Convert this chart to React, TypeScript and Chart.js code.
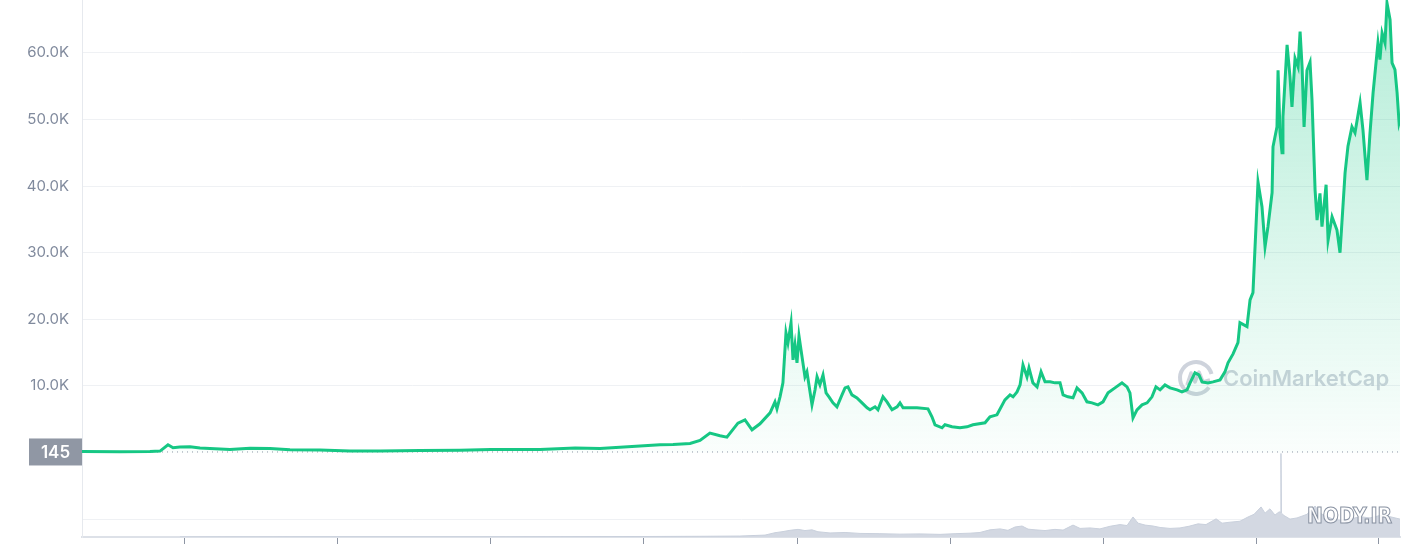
import React, { useEffect, useRef } from "react";
import { Chart, registerables } from "chart.js";

Chart.register(...registerables);

// price history, decimal years vs USD
const priceDates: number[] = [
  2013.327, 2013.575, 2013.771, 2013.837, 2013.889, 2013.922, 2013.967, 2014.033, 2014.098, 2014.196,
  2014.294, 2014.425, 2014.556, 2014.686, 2014.882, 2015.078, 2015.275, 2015.536, 2015.797, 2016.0,
  2016.32, 2016.55, 2016.712, 2017.0, 2017.105, 2017.19, 2017.301, 2017.366, 2017.431, 2017.497,
  2017.542, 2017.614, 2017.66, 2017.706, 2017.758, 2017.824, 2017.856, 2017.869, 2017.889, 2017.908,
  2017.928, 2017.941, 2017.961, 2017.974, 2017.987, 2018.0, 2018.013, 2018.033, 2018.052, 2018.065,
  2018.098, 2018.118, 2018.131, 2018.15, 2018.17, 2018.19, 2018.209, 2018.235, 2018.261, 2018.294,
  2018.314, 2018.333, 2018.359, 2018.392, 2018.425, 2018.458, 2018.477, 2018.51, 2018.529, 2018.562,
  2018.588, 2018.621, 2018.654, 2018.673, 2018.693, 2018.739, 2018.784, 2018.856, 2018.882, 2018.902,
  2018.948, 2018.967, 2019.013, 2019.065, 2019.111, 2019.15, 2019.229, 2019.261, 2019.307, 2019.359,
  2019.392, 2019.412, 2019.438, 2019.458, 2019.477, 2019.503, 2019.516, 2019.542, 2019.569, 2019.595,
  2019.621, 2019.654, 2019.686, 2019.719, 2019.739, 2019.771, 2019.804, 2019.83, 2019.863, 2019.895,
  2019.928, 2019.967, 2020.0, 2020.033, 2020.078, 2020.124, 2020.157, 2020.176, 2020.196, 2020.222,
  2020.255, 2020.288, 2020.32, 2020.346, 2020.373, 2020.405, 2020.438, 2020.484, 2020.516, 2020.549,
  2020.569, 2020.601, 2020.627, 2020.647, 2020.686, 2020.719, 2020.765, 2020.797, 2020.817, 2020.85,
  2020.882, 2020.895, 2020.941, 2020.961, 2020.98, 2021.013, 2021.039, 2021.059, 2021.078, 2021.105,
  2021.111, 2021.137, 2021.144, 2021.157, 2021.17, 2021.176, 2021.203, 2021.222, 2021.235, 2021.255,
  2021.275, 2021.288, 2021.301, 2021.314, 2021.333, 2021.353, 2021.366, 2021.386, 2021.399, 2021.418,
  2021.431, 2021.458, 2021.471, 2021.497, 2021.529, 2021.549, 2021.582, 2021.601, 2021.627, 2021.647,
  2021.68, 2021.699, 2021.725, 2021.745, 2021.765, 2021.797, 2021.81, 2021.824, 2021.843, 2021.856,
  2021.876, 2021.889, 2021.908, 2021.922, 2021.935, 2021.941,
];

const priceValues: number[] = [
  135, 100, 130, 200, 1150, 700, 800, 850, 650, 550,
  450, 620, 590, 400, 380, 230, 230, 280, 330, 430,
  450, 650, 610, 1000, 1150, 1200, 1350, 1800, 2900, 2500,
  2300, 4400, 4900, 3400, 4300, 5950, 7600, 6550, 8350, 10450,
  17950, 16450, 19450, 13900, 16150, 13450, 17500, 14350, 11350, 12100,
  7150, 9400, 11350, 10150, 11650, 8950, 8350, 7450, 6850, 8650,
  9700, 9850, 8650, 8200, 7450, 6700, 6400, 6850, 6400, 8350,
  7600, 6400, 6850, 7450, 6700, 6700, 6700, 6550, 5350, 4150,
  3700, 4150, 3850, 3700, 3850, 4150, 4450, 5350, 5650, 7900,
  8650, 8350, 9100, 10150, 13150, 11350, 12700, 10450, 9850, 12100,
  10600, 10600, 10450, 10450, 8650, 8350, 8200, 9700, 8950, 7600,
  7450, 7150, 7600, 8950, 9700, 10450, 9850, 8950, 5200, 6400,
  7150, 7450, 8350, 9850, 9400, 10150, 9700, 9400, 9100, 9400,
  10450, 11950, 11650, 10600, 10450, 10600, 10900, 12100, 13450, 14800,
  16500, 19500, 18900, 22900, 24000, 40600, 36900, 30900, 33900, 39000,
  45900, 48900, 57400, 48000, 45000, 50400, 61200, 56400, 51900, 59200,
  57900, 63200, 57900, 48900, 57400, 58600, 52900, 39400, 34900, 38900,
  33900, 40200, 31900, 35400, 33400, 30000, 42000, 46000, 48900, 48000,
  52500, 48400, 40900, 48000, 54000, 61500, 59000, 63000, 61500, 67500,
  65000, 58500, 57500, 54000, 49500, 50000,
];

// traded volume, billions USD
const volumeDates: number[] = [
  2013.967, 2014.752, 2016.059, 2016.974, 2017.366, 2017.627, 2017.791, 2017.856, 2017.902, 2017.954,
  2018.007, 2018.052, 2018.098, 2018.137, 2018.216, 2018.314, 2018.412, 2018.542, 2018.673, 2018.804,
  2018.935, 2019.033, 2019.131, 2019.196, 2019.261, 2019.327, 2019.379, 2019.425, 2019.471, 2019.51,
  2019.556, 2019.621, 2019.686, 2019.739, 2019.804, 2019.85, 2019.915, 2019.98, 2020.046, 2020.111,
  2020.157, 2020.196, 2020.229, 2020.275, 2020.327, 2020.373, 2020.438, 2020.503, 2020.562, 2020.621,
  2020.673, 2020.739, 2020.778, 2020.83, 2020.895, 2020.948, 2020.987, 2021.033, 2021.059, 2021.091,
  2021.124, 2021.15, 2021.16, 2021.163, 2021.166, 2021.183, 2021.222, 2021.268, 2021.333, 2021.386,
  2021.418, 2021.464, 2021.516, 2021.549, 2021.614, 2021.68, 2021.745, 2021.81, 2021.876, 2021.941,
];

const volumeValues: number[] = [
  0.5, 1, 1, 2, 3, 4, 8, 18, 22, 28,
  32, 27, 30, 22, 17, 19, 15, 14, 12, 13,
  11, 14, 16, 19, 30, 34, 28, 42, 46, 33,
  30, 27, 32, 29, 50, 36, 38, 34, 45, 52,
  48, 84, 58, 50, 46, 40, 36, 38, 45, 55,
  52, 76, 58, 62, 66, 84, 95, 126, 100, 118,
  92, 105, 105, 350, 100, 90, 75, 80, 95, 130,
  100, 85, 72, 70, 75, 85, 80, 90, 85, 75,
];

const yTickValues = [-10000, 0, 10000, 20000, 30000, 40000, 50000, 60000];
const xTickYears = [2014, 2015, 2016, 2017, 2018, 2019, 2020, 2021, 2021.8];
const baselinePrice = 145;

const GREEN = "#16c784";

const overlayPlugin = {
  id: "overlay",
  beforeDatasetsDraw(chart: any) {
    const { ctx, chartArea } = chart;
    const y = chart.scales.y.getPixelForValue(baselinePrice);
    ctx.save();
    // dotted reference line
    ctx.setLineDash([1, 4]);
    ctx.strokeStyle = "#8e96a6";
    ctx.lineWidth = 1;
    ctx.beginPath();
    ctx.moveTo(chartArea.left, y + 0.5);
    ctx.lineTo(chartArea.right, y + 0.5);
    ctx.stroke();
    ctx.setLineDash([]);

    // CoinMarketCap watermark
    const cx = chartArea.right - 204;
    const cy = chartArea.top + 378;
    ctx.strokeStyle = "rgba(190,196,208,0.75)";
    ctx.lineWidth = 4;
    ctx.beginPath();
    ctx.arc(cx, cy, 16, 0.2 * Math.PI, 1.92 * Math.PI);
    ctx.stroke();
    ctx.lineWidth = 3.5;
    ctx.lineJoin = "round";
    ctx.beginPath();
    ctx.moveTo(cx - 9, cy + 7);
    ctx.lineTo(cx - 5, cy - 5);
    ctx.lineTo(cx - 1, cy + 4);
    ctx.lineTo(cx + 3, cy - 6);
    ctx.lineTo(cx + 7, cy + 4);
    ctx.lineTo(cx + 14, cy + 2);
    ctx.stroke();
    ctx.fillStyle = "rgba(190,196,208,0.75)";
    ctx.font = "600 22px Inter";
    ctx.textAlign = "left";
    ctx.textBaseline = "middle";
    ctx.fillText("CoinMarketCap", cx + 27, cy + 1);
    ctx.restore();
  },
  afterDraw(chart: any) {
    const { ctx, chartArea } = chart;
    const y = chart.scales.y.getPixelForValue(baselinePrice);
    ctx.save();
    // current value tag on the axis
    ctx.fillStyle = "#9097a4";
    ctx.fillRect(29, y - 13, chartArea.left - 29, 27);
    ctx.fillStyle = "#ffffff";
    ctx.font = "600 17px Inter";
    ctx.textAlign = "center";
    ctx.textBaseline = "middle";
    ctx.fillText(String(baselinePrice), (29 + chartArea.left) / 2, y + 1);

    // site stamp
    ctx.font = "bold 21px 'DejaVu Sans Condensed'";
    ctx.textAlign = "right";
    ctx.fillStyle = "rgba(255,255,255,0.85)";
    ctx.fillText("NODY.IR", chartArea.right - 8, chartArea.bottom - 19);
    ctx.strokeStyle = "#8a93a3";
    ctx.lineWidth = 1;
    ctx.strokeText("NODY.IR", chartArea.right - 8, chartArea.bottom - 19);
    ctx.restore();
  },
};

const BitcoinChart: React.FC = () => {
  const chartRef = useRef<HTMLCanvasElement>(null);
  const chartInstance = useRef<Chart | null>(null);

  useEffect(() => {
    document.body.style.margin = "0";
    if (!chartRef.current) return;
    if (chartInstance.current) chartInstance.current.destroy();

    chartInstance.current = new Chart(chartRef.current, {
      type: "line",
      data: {
        datasets: [
          {
            label: "Price",
            data: priceDates.map((d, i) => ({ x: d, y: priceValues[i] })),
            borderColor: GREEN,
            borderWidth: 3,
            pointRadius: 0,
            tension: 0,
            fill: "origin",
            yAxisID: "y",
            backgroundColor: (context: any) => {
              const { chart } = context;
              const area = chart.chartArea;
              if (!area) return "rgba(22,199,132,0.1)";
              const zero = chart.scales.y.getPixelForValue(0);
              const g = chart.ctx.createLinearGradient(0, area.top, 0, zero);
              g.addColorStop(0, "rgba(22,199,132,0.32)");
              g.addColorStop(1, "rgba(22,199,132,0.02)");
              return g;
            },
          },
          {
            label: "Volume",
            data: volumeDates.map((d, i) => ({ x: d, y: volumeValues[i] })),
            borderColor: "#c9d0dc",
            borderWidth: 1,
            backgroundColor: "#d3d8e2",
            pointRadius: 0,
            tension: 0,
            fill: "origin",
            yAxisID: "vol",
          },
        ],
      },
      options: {
        animation: false,
        responsive: true,
        maintainAspectRatio: false,
        layout: { padding: { left: 0, right: 4, top: 0, bottom: 0 } },
        plugins: {
          legend: { display: false },
          tooltip: { enabled: false },
        },
        scales: {
          x: {
            type: "linear",
            min: 2013.327,
            max: 2021.941,
            afterBuildTicks: (scale: any) => {
              scale.ticks = xTickYears.map((v) => ({ value: v }));
            },
            afterFit: (scale: any) => {
              scale.height = 7;
              scale.paddingLeft = 0;
              scale.paddingRight = 0;
            },
            grid: {
              drawOnChartArea: false,
              drawTicks: true,
              tickLength: 7,
              color: "#8d95a3",
            },
            border: { color: "#dde1e8", width: 2 },
            ticks: { display: false },
          },
          y: {
            type: "linear",
            min: -12700,
            max: 67950,
            afterBuildTicks: (scale: any) => {
              scale.ticks = yTickValues.map((v) => ({ value: v }));
            },
            afterFit: (scale: any) => {
              scale.width = 82;
              scale.paddingTop = 0;
              scale.paddingBottom = 0;
            },
            grid: {
              drawTicks: false,
              color: (c: any) => (c.tick && c.tick.value === 0 ? "rgba(0,0,0,0)" : "#eff1f4"),
            },
            border: { color: "#e6e9ee" },
            ticks: {
              padding: 13,
              color: "#808a9d",
              font: { family: "Inter", size: 15 },
              callback: (v: any) => (v > 0 ? (v / 1000).toFixed(1) + "K" : ""),
            },
          },
          vol: {
            type: "linear",
            display: false,
            min: 0,
            max: 2250,
          },
        },
      },
      plugins: [overlayPlugin],
    } as any);

    return () => {
      if (chartInstance.current) {
        chartInstance.current.destroy();
        chartInstance.current = null;
      }
    };
  }, []);

  return (
    <div style={{ width: 1404, height: 544, position: "relative", background: "#fff" }}>
      <canvas ref={chartRef}></canvas>
    </div>
  );
};

export default function App() {
  return <BitcoinChart />;
}
